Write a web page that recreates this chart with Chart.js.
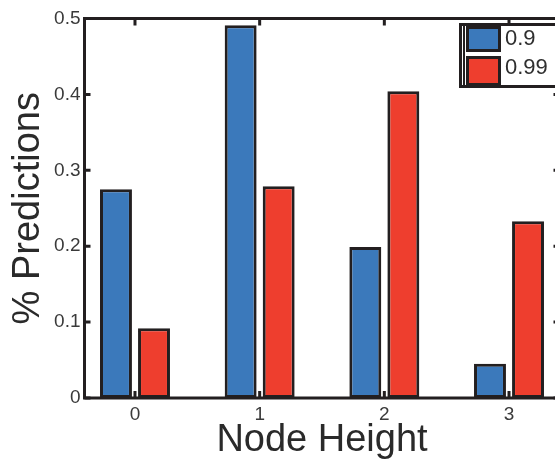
<!DOCTYPE html>
<html>
<head>
<meta charset="utf-8">
<script src="https://cdn.jsdelivr.net/npm/chart.js@4/dist/chart.umd.min.js"></script>
<style>
  html, body { margin: 0; padding: 0; background: #fff; overflow: hidden; }
  #wrap { width: 575px; height: 460px; }
</style>
</head>
<body>
<div id="wrap"><canvas id="myChart" width="575" height="460"></canvas></div>
<script>
'use strict';

// data
const categories = [0, 1, 2, 3];
const categoryLabels = ['0', '1', '2', '3'];
const seriesLabels = ['0.9', '0.99'];
const series09 = [0.275, 0.491, 0.199, 0.045];
const series099 = [0.092, 0.279, 0.404, 0.233];
const yTickLabels = ['0', '0.1', '0.2', '0.3', '0.4', '0.5'];

const FONT = 'Liberation Sans, Arial, Helvetica, sans-serif';
const EDGE = '#231f20';
const colors = ['#3b79bb', '#ee3e2e'];

function toPoints(values) {
  return categories.map((c, i) => ({x: c, y: values[i]}));
}

// frame, inward ticks and boxed legend, drawn the Matlab way
const matlabAxes = {
  id: 'matlabAxes',
  afterDatasetsDraw(chart) {
    const ctx = chart.ctx;
    const a = chart.chartArea;
    const xs = chart.scales.x, ys = chart.scales.y;
    ctx.save();
    ctx.strokeStyle = EDGE;
    ctx.lineWidth = 3;
    ctx.strokeRect(a.left, a.top, a.right - a.left, a.bottom - a.top);

    ctx.beginPath();
    categories.forEach(c => {
      const px = xs.getPixelForValue(c);
      ctx.moveTo(px, a.bottom);
      ctx.lineTo(px, a.bottom - 7);
      ctx.moveTo(px, a.top);
      ctx.lineTo(px, a.top + 7);
    });
    ys.ticks.forEach(t => {
      const py = ys.getPixelForValue(t.value);
      ctx.moveTo(a.left, py);
      ctx.lineTo(a.left + 6, py);
      ctx.moveTo(a.right, py);
      ctx.lineTo(a.right - 6, py);
    });
    ctx.stroke();
    ctx.restore();
  },
  afterDraw(chart) {
    const ctx = chart.ctx;
    ctx.save();
    ctx.fillStyle = '#fff';
    ctx.strokeStyle = EDGE;
    ctx.lineWidth = 3;
    ctx.fillRect(460.5, 24.5, 120, 62);
    ctx.strokeRect(460.5, 24.5, 120, 62);
    ctx.lineWidth = 2;
    ctx.beginPath();
    ctx.moveTo(464, 26);
    ctx.lineTo(464, 85);
    ctx.stroke();

    const boxes = [[467.5, 27.5, 32, 23, 39], [467.5, 57.5, 32, 27, 68]];
    ctx.font = '22px ' + FONT;
    ctx.textBaseline = 'middle';
    ctx.textAlign = 'left';
    chart.data.datasets.forEach((ds, i) => {
      const b = boxes[i];
      ctx.lineWidth = 3;
      ctx.fillStyle = ds.backgroundColor;
      ctx.fillRect(b[0], b[1], b[2], b[3]);
      ctx.strokeRect(b[0], b[1], b[2], b[3]);
      ctx.fillStyle = '#2f2f2f';
      ctx.fillText(ds.label, 505, b[4]);
    });
    ctx.restore();
  }
};

const ctxChart = document.getElementById('myChart');
const chart = new Chart(ctxChart, {
  type: 'bar',
  data: {
    datasets: [
      {
        label: seriesLabels[0],
        data: toPoints(series09),
        backgroundColor: colors[0],
        borderColor: EDGE,
        borderWidth: 3,
        borderSkipped: false
      },
      {
        label: seriesLabels[1],
        data: toPoints(series099),
        backgroundColor: colors[1],
        borderColor: EDGE,
        borderWidth: 3,
        borderSkipped: false
      }
    ]
  },
  options: {
    responsive: false,
    animation: false,
    devicePixelRatio: 1,
    categoryPercentage: 0.61,
    barPercentage: 0.84,
    layout: {padding: {left: 0, top: 18.5, right: 15.5, bottom: 0}},
    plugins: {
      legend: {display: false},
      tooltip: {enabled: false}
    },
    scales: {
      x: {
        type: 'linear',
        offset: false,
        min: -0.405,
        max: 3.405,
        grid: {display: false, drawTicks: false},
        border: {display: false},
        afterBuildTicks: s => { s.ticks = categories.map(v => ({value: v})); },
        afterFit: s => { s.height = 62; },
        ticks: {
          padding: 5,
          maxRotation: 0,
          color: '#3a3a3a',
          font: {family: FONT, size: 19},
          callback: (v, i) => categoryLabels[i]
        },
        title: {
          display: true,
          text: 'Node Height',
          color: '#2a2a2a',
          font: {family: FONT, size: 38, lineHeight: 1},
          padding: {top: 0, bottom: 0}
        }
      },
      y: {
        min: 0,
        max: 0.5,
        grid: {display: false, drawTicks: false},
        border: {display: false},
        afterFit: s => { s.width = 84.5; },
        ticks: {
          stepSize: 0.1,
          padding: 4,
          color: '#3a3a3a',
          font: {family: FONT, size: 19},
          callback: (v, i) => yTickLabels[i]
        },
        title: {
          display: true,
          text: '% Predictions',
          color: '#2a2a2a',
          font: {family: FONT, size: 38, lineHeight: 1},
          padding: {top: 10, bottom: 0}
        }
      }
    }
  },
  plugins: [matlabAxes]
});
</script>
</body>
</html>
